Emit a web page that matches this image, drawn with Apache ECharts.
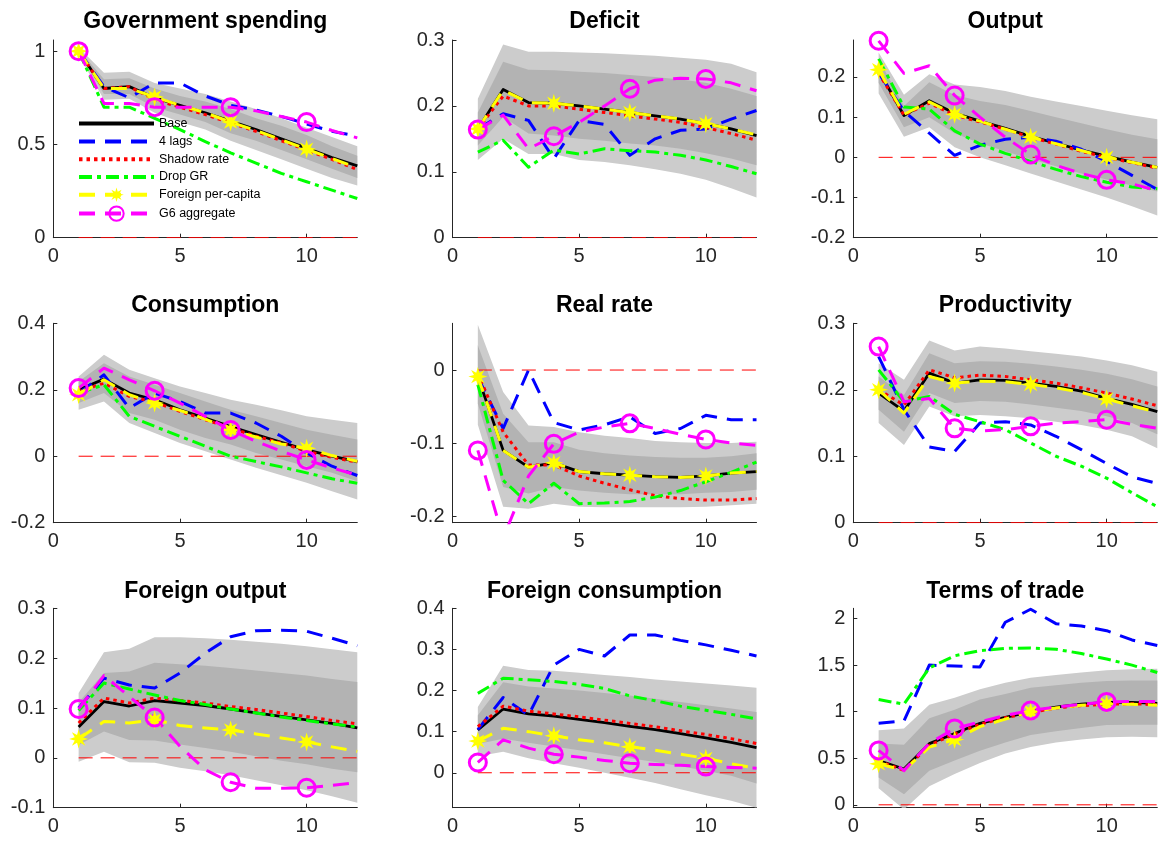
<!DOCTYPE html>
<html>
<head>
<meta charset="utf-8">
<script src="https://cdn.jsdelivr.net/npm/echarts@6/dist/echarts.min.js"></script>
<style>
  html, body { margin: 0; padding: 0; background: #ffffff; }
  #chart { width: 1158px; height: 841px; }
</style>
</head>
<body>
<div id="chart"></div>
<script>
// Impulse responses, horizons 1..12
const horizon = [1, 2, 3, 4, 5, 6, 7, 8, 9, 10, 11, 12];
const markerHorizons = [1, 4, 7, 10];
const xTicks = [0, 5, 10];

// Government spending
const gov_base   = [1.00, 0.80, 0.81, 0.75, 0.71, 0.67, 0.625, 0.58, 0.53, 0.48, 0.43, 0.385];
const gov_lags   = [1.00, 0.81, 0.75, 0.83, 0.83, 0.76, 0.71, 0.685, 0.65, 0.61, 0.57, 0.545];
const gov_shadow = [1.00, 0.80, 0.81, 0.74, 0.70, 0.66, 0.615, 0.57, 0.52, 0.47, 0.42, 0.365];
const gov_dropgr = [1.00, 0.70, 0.70, 0.64, 0.58, 0.515, 0.455, 0.40, 0.345, 0.30, 0.255, 0.21];
const gov_fpc    = [1.00, 0.80, 0.80, 0.755, 0.71, 0.67, 0.62, 0.575, 0.525, 0.475, 0.425, 0.375];
const gov_g6     = [1.00, 0.72, 0.72, 0.70, 0.70, 0.70, 0.70, 0.68, 0.65, 0.62, 0.575, 0.535];
const gov_outerLo = [0.98, 0.74, 0.745, 0.67, 0.62, 0.58, 0.52, 0.47, 0.42, 0.37, 0.32, 0.28];
const gov_outerHi = [1.02, 0.885, 0.89, 0.83, 0.80, 0.77, 0.73, 0.69, 0.64, 0.59, 0.54, 0.49];
const gov_innerLo = [0.99, 0.77, 0.77, 0.70, 0.66, 0.62, 0.56, 0.52, 0.47, 0.42, 0.37, 0.32];
const gov_innerHi = [1.01, 0.85, 0.855, 0.80, 0.76, 0.73, 0.69, 0.64, 0.60, 0.55, 0.49, 0.44];
const gov_yTicks = [0, 0.5, 1];

// Deficit
const def_base   = [0.165, 0.225, 0.205, 0.204, 0.20, 0.195, 0.19, 0.185, 0.18, 0.173, 0.165, 0.155];
const def_lags   = [0.165, 0.188, 0.178, 0.12, 0.178, 0.172, 0.125, 0.15, 0.163, 0.165, 0.18, 0.193];
const def_shadow = [0.165, 0.215, 0.20, 0.20, 0.195, 0.19, 0.185, 0.18, 0.175, 0.167, 0.158, 0.148];
const def_dropgr = [0.13, 0.148, 0.107, 0.133, 0.127, 0.135, 0.132, 0.13, 0.125, 0.118, 0.108, 0.097];
const def_fpc    = [0.165, 0.224, 0.205, 0.204, 0.20, 0.195, 0.19, 0.185, 0.18, 0.173, 0.165, 0.156];
const def_g6     = [0.164, 0.186, 0.135, 0.154, 0.175, 0.20, 0.226, 0.239, 0.242, 0.241, 0.235, 0.223];
const def_outerLo = [0.118, 0.150, 0.127, 0.127, 0.118, 0.115, 0.11, 0.104, 0.097, 0.088, 0.075, 0.061];
const def_outerHi = [0.211, 0.293, 0.282, 0.282, 0.281, 0.28, 0.278, 0.276, 0.273, 0.27, 0.264, 0.251];
const def_innerLo = [0.14, 0.183, 0.158, 0.155, 0.15, 0.147, 0.143, 0.14, 0.135, 0.128, 0.12, 0.11];
const def_innerHi = [0.19, 0.267, 0.255, 0.254, 0.252, 0.25, 0.247, 0.244, 0.24, 0.235, 0.226, 0.215];
const def_yTicks = [0, 0.1, 0.2, 0.3];

// Output
const out_base   = [0.216, 0.104, 0.141, 0.11, 0.09, 0.072, 0.052, 0.035, 0.018, 0.003, -0.012, -0.025];
const out_lags   = [0.21, 0.115, 0.06, 0.005, 0.03, 0.045, 0.05, 0.04, 0.02, -0.01, -0.045, -0.08];
const out_shadow = [0.21, 0.105, 0.135, 0.105, 0.088, 0.07, 0.05, 0.033, 0.015, 0.0, -0.013, -0.027];
const out_dropgr = [0.245, 0.125, 0.12, 0.066, 0.033, 0.01, -0.01, -0.03, -0.048, -0.062, -0.074, -0.078];
const out_fpc    = [0.218, 0.107, 0.138, 0.107, 0.09, 0.07, 0.05, 0.034, 0.017, 0.0, -0.012, -0.025];
const out_g6     = [0.29, 0.209, 0.228, 0.154, 0.10, 0.05, 0.007, -0.02, -0.04, -0.056, -0.066, -0.083];
const out_outerLo = [0.159, 0.051, 0.075, 0.025, 0.0, -0.02, -0.04, -0.06, -0.08, -0.10, -0.122, -0.145];
const out_outerHi = [0.261, 0.156, 0.207, 0.181, 0.175, 0.165, 0.151, 0.139, 0.128, 0.116, 0.105, 0.095];
const out_innerLo = [0.185, 0.075, 0.10, 0.06, 0.035, 0.015, -0.005, -0.022, -0.04, -0.055, -0.07, -0.085];
const out_innerHi = [0.245, 0.128, 0.187, 0.155, 0.14, 0.13, 0.115, 0.10, 0.085, 0.07, 0.056, 0.045];
const out_yTicks = [-0.2, -0.1, 0, 0.1, 0.2];

// Consumption
const con_base   = [0.20, 0.232, 0.19, 0.17, 0.14, 0.115, 0.089, 0.065, 0.042, 0.019, 0.0, -0.016];
const con_lags   = [0.19, 0.245, 0.145, 0.19, 0.165, 0.13, 0.13, 0.10, 0.06, 0.01, -0.03, -0.058];
const con_shadow = [0.195, 0.22, 0.18, 0.163, 0.135, 0.11, 0.085, 0.06, 0.04, 0.015, -0.003, -0.018];
const con_dropgr = [0.19, 0.215, 0.12, 0.09, 0.06, 0.03, 0.0, -0.016, -0.032, -0.05, -0.068, -0.081];
const con_fpc    = [0.185, 0.23, 0.185, 0.16, 0.138, 0.112, 0.079, 0.058, 0.037, 0.024, 0.002, -0.015];
const con_g6     = [0.205, 0.265, 0.23, 0.197, 0.16, 0.12, 0.079, 0.045, 0.015, -0.011, -0.035, -0.057];
const con_outerLo = [0.14, 0.165, 0.10, 0.07, 0.04, 0.015, -0.01, -0.035, -0.057, -0.08, -0.105, -0.13];
const con_outerHi = [0.24, 0.305, 0.26, 0.235, 0.21, 0.19, 0.17, 0.155, 0.138, 0.12, 0.11, 0.10];
const con_innerLo = [0.16, 0.19, 0.13, 0.11, 0.08, 0.055, 0.035, 0.01, -0.01, -0.03, -0.05, -0.075];
const con_innerHi = [0.225, 0.28, 0.24, 0.215, 0.19, 0.165, 0.14, 0.12, 0.10, 0.08, 0.065, 0.05];
const con_yTicks = [-0.2, 0, 0.2, 0.4];

// Real rate
const rr_base   = [-0.009, -0.11, -0.133, -0.127, -0.139, -0.142, -0.144, -0.146, -0.147, -0.145, -0.141, -0.139];
const rr_lags   = [-0.01, -0.08, 0.0, -0.072, -0.082, -0.075, -0.064, -0.087, -0.08, -0.062, -0.068, -0.068];
const rr_shadow = [-0.005, -0.085, -0.13, -0.13, -0.145, -0.155, -0.164, -0.172, -0.176, -0.178, -0.178, -0.176];
const rr_dropgr = [-0.02, -0.151, -0.183, -0.155, -0.183, -0.182, -0.18, -0.174, -0.165, -0.153, -0.14, -0.126];
const rr_fpc    = [-0.009, -0.11, -0.133, -0.127, -0.139, -0.142, -0.144, -0.146, -0.147, -0.145, -0.141, -0.139];
const rr_g6     = [-0.11, -0.23, -0.145, -0.101, -0.085, -0.078, -0.073, -0.08, -0.088, -0.095, -0.10, -0.103];
const rr_outerLo = [-0.075, -0.187, -0.19, -0.183, -0.187, -0.188, -0.188, -0.188, -0.188, -0.187, -0.185, -0.183];
const rr_outerHi = [0.062, -0.03, -0.076, -0.078, -0.085, -0.09, -0.093, -0.097, -0.099, -0.10, -0.10, -0.098];
const rr_innerLo = [-0.046, -0.16, -0.169, -0.16, -0.165, -0.168, -0.17, -0.17, -0.17, -0.168, -0.167, -0.164];
const rr_innerHi = [0.034, -0.06, -0.099, -0.099, -0.109, -0.114, -0.117, -0.119, -0.12, -0.12, -0.118, -0.114];
const rr_yTicks = [-0.2, -0.1, 0];

// Productivity
const prod_base   = [0.195, 0.168, 0.225, 0.21, 0.215, 0.214, 0.21, 0.205, 0.198, 0.187, 0.178, 0.167];
const prod_lags   = [0.25, 0.17, 0.114, 0.107, 0.15, 0.152, 0.147, 0.13, 0.11, 0.089, 0.069, 0.059];
const prod_shadow = [0.20, 0.177, 0.23, 0.218, 0.222, 0.22, 0.215, 0.21, 0.203, 0.195, 0.186, 0.176];
const prod_dropgr = [0.23, 0.182, 0.19, 0.163, 0.152, 0.14, 0.12, 0.10, 0.085, 0.067, 0.045, 0.024];
const prod_fpc    = [0.20, 0.165, 0.22, 0.21, 0.213, 0.212, 0.208, 0.203, 0.196, 0.186, 0.176, 0.166];
const prod_g6     = [0.265, 0.182, 0.187, 0.142, 0.138, 0.14, 0.145, 0.15, 0.152, 0.155, 0.148, 0.142];
const prod_outerLo = [0.15, 0.117, 0.175, 0.16, 0.162, 0.16, 0.157, 0.152, 0.147, 0.14, 0.13, 0.112];
const prod_outerHi = [0.24, 0.215, 0.274, 0.259, 0.265, 0.262, 0.258, 0.254, 0.25, 0.244, 0.237, 0.227];
const prod_innerLo = [0.17, 0.137, 0.195, 0.18, 0.183, 0.182, 0.178, 0.173, 0.168, 0.16, 0.15, 0.133];
const prod_innerHi = [0.22, 0.192, 0.255, 0.24, 0.243, 0.242, 0.239, 0.235, 0.23, 0.224, 0.216, 0.205];
const prod_yTicks = [0, 0.1, 0.2, 0.3];

// Foreign output
const fout_base   = [0.062, 0.113, 0.104, 0.115, 0.11, 0.105, 0.098, 0.09, 0.083, 0.076, 0.069, 0.06];
const fout_lags   = [0.10, 0.16, 0.146, 0.14, 0.17, 0.21, 0.243, 0.255, 0.256, 0.254, 0.24, 0.225];
const fout_shadow = [0.07, 0.12, 0.11, 0.12, 0.115, 0.11, 0.103, 0.097, 0.09, 0.083, 0.075, 0.068];
const fout_dropgr = [0.095, 0.15, 0.138, 0.126, 0.115, 0.107, 0.098, 0.09, 0.082, 0.075, 0.068, 0.062];
const fout_fpc    = [0.038, 0.073, 0.07, 0.076, 0.065, 0.06, 0.056, 0.048, 0.04, 0.032, 0.022, 0.013];
const fout_g6     = [0.098, 0.165, 0.123, 0.081, 0.023, -0.024, -0.049, -0.061, -0.061, -0.06, -0.055, -0.05];
const fout_outerLo = [-0.008, 0.012, -0.009, -0.01, -0.02, -0.027, -0.035, -0.045, -0.055, -0.065, -0.077, -0.09];
const fout_outerHi = [0.13, 0.212, 0.219, 0.242, 0.242, 0.24, 0.237, 0.233, 0.229, 0.224, 0.218, 0.212];
const fout_innerLo = [0.026, 0.053, 0.036, 0.035, 0.027, 0.02, 0.012, 0.003, -0.006, -0.013, -0.022, -0.029];
const fout_innerHi = [0.111, 0.17, 0.173, 0.191, 0.188, 0.185, 0.18, 0.175, 0.17, 0.165, 0.158, 0.152];
const fout_yTicks = [-0.1, 0, 0.1, 0.2, 0.3];

// Foreign consumption
const fcon_base   = [0.104, 0.155, 0.143, 0.138, 0.13, 0.122, 0.113, 0.105, 0.095, 0.085, 0.074, 0.061];
const fcon_lags   = [0.105, 0.183, 0.14, 0.262, 0.30, 0.284, 0.335, 0.335, 0.322, 0.311, 0.298, 0.284];
const fcon_shadow = [0.112, 0.162, 0.15, 0.143, 0.136, 0.128, 0.12, 0.112, 0.102, 0.093, 0.083, 0.071];
const fcon_dropgr = [0.193, 0.23, 0.226, 0.222, 0.215, 0.205, 0.187, 0.175, 0.162, 0.152, 0.142, 0.131];
const fcon_fpc    = [0.077, 0.108, 0.10, 0.09, 0.08, 0.073, 0.063, 0.055, 0.045, 0.035, 0.022, 0.011];
const fcon_g6     = [0.025, 0.08, 0.06, 0.045, 0.038, 0.03, 0.023, 0.02, 0.018, 0.015, 0.013, 0.011];
const fcon_outerLo = [0.04, 0.051, 0.035, 0.023, 0.012, 0.0, -0.012, -0.025, -0.04, -0.055, -0.068, -0.085];
const fcon_outerHi = [0.16, 0.26, 0.25, 0.248, 0.243, 0.238, 0.233, 0.227, 0.222, 0.217, 0.212, 0.207];
const fcon_innerLo = [0.07, 0.083, 0.073, 0.064, 0.055, 0.045, 0.035, 0.026, 0.016, 0.005, -0.007, -0.026];
const fcon_innerHi = [0.14, 0.22, 0.21, 0.205, 0.20, 0.194, 0.188, 0.18, 0.172, 0.164, 0.156, 0.148];
const fcon_yTicks = [0, 0.1, 0.2, 0.3, 0.4];

// Terms of trade
const tot_base   = [0.475, 0.385, 0.657, 0.766, 0.875, 0.94, 1.0, 1.05, 1.08, 1.10, 1.10, 1.09];
const tot_lags   = [0.875, 0.90, 1.50, 1.49, 1.48, 1.96, 2.10, 1.945, 1.92, 1.87, 1.77, 1.71];
const tot_shadow = [0.47, 0.37, 0.64, 0.76, 0.865, 0.935, 0.99, 1.04, 1.065, 1.08, 1.085, 1.075];
const tot_dropgr = [1.13, 1.08, 1.47, 1.60, 1.655, 1.68, 1.684, 1.67, 1.625, 1.565, 1.50, 1.42];
const tot_fpc    = [0.44, 0.37, 0.62, 0.70, 0.84, 0.92, 1.0, 1.04, 1.07, 1.085, 1.08, 1.07];
const tot_g6     = [0.584, 0.367, 0.66, 0.82, 0.89, 0.96, 1.013, 1.05, 1.08, 1.105, 1.11, 1.11];
const tot_outerLo = [0.178, -0.05, 0.20, 0.33, 0.45, 0.55, 0.62, 0.67, 0.70, 0.725, 0.73, 0.726];
const tot_outerHi = [0.80, 0.82, 1.075, 1.15, 1.24, 1.31, 1.365, 1.395, 1.42, 1.445, 1.455, 1.46];
const tot_innerLo = [0.294, 0.113, 0.367, 0.476, 0.58, 0.67, 0.75, 0.79, 0.825, 0.857, 0.86, 0.86];
const tot_innerHi = [0.657, 0.646, 0.93, 1.02, 1.13, 1.19, 1.256, 1.285, 1.31, 1.33, 1.335, 1.335];
const tot_yTicks = [0, 0.5, 1, 1.5, 2];

const seriesNames = ['Base', '4 lags', 'Shadow rate', 'Drop GR', 'Foreign per-capita', 'G6 aggregate'];

const panels = [
  { title: 'Government spending', yMin: 0, yMax: 1.06, yTicks: gov_yTicks,
    lines: [gov_base, gov_lags, gov_shadow, gov_dropgr, gov_fpc, gov_g6],
    outer: [gov_outerLo, gov_outerHi], inner: [gov_innerLo, gov_innerHi] },
  { title: 'Deficit', yMin: 0, yMax: 0.3, yTicks: def_yTicks,
    lines: [def_base, def_lags, def_shadow, def_dropgr, def_fpc, def_g6],
    outer: [def_outerLo, def_outerHi], inner: [def_innerLo, def_innerHi] },
  { title: 'Output', yMin: -0.2, yMax: 0.292, yTicks: out_yTicks,
    lines: [out_base, out_lags, out_shadow, out_dropgr, out_fpc, out_g6],
    outer: [out_outerLo, out_outerHi], inner: [out_innerLo, out_innerHi] },
  { title: 'Consumption', yMin: -0.2, yMax: 0.4, yTicks: con_yTicks,
    lines: [con_base, con_lags, con_shadow, con_dropgr, con_fpc, con_g6],
    outer: [con_outerLo, con_outerHi], inner: [con_innerLo, con_innerHi] },
  { title: 'Real rate', yMin: -0.209, yMax: 0.064, yTicks: rr_yTicks,
    lines: [rr_base, rr_lags, rr_shadow, rr_dropgr, rr_fpc, rr_g6],
    outer: [rr_outerLo, rr_outerHi], inner: [rr_innerLo, rr_innerHi] },
  { title: 'Productivity', yMin: 0, yMax: 0.3, yTicks: prod_yTicks,
    lines: [prod_base, prod_lags, prod_shadow, prod_dropgr, prod_fpc, prod_g6],
    outer: [prod_outerLo, prod_outerHi], inner: [prod_innerLo, prod_innerHi] },
  { title: 'Foreign output', yMin: -0.1, yMax: 0.3, yTicks: fout_yTicks,
    lines: [fout_base, fout_lags, fout_shadow, fout_dropgr, fout_fpc, fout_g6],
    outer: [fout_outerLo, fout_outerHi], inner: [fout_innerLo, fout_innerHi] },
  { title: 'Foreign consumption', yMin: -0.085, yMax: 0.4, yTicks: fcon_yTicks,
    lines: [fcon_base, fcon_lags, fcon_shadow, fcon_dropgr, fcon_fpc, fcon_g6],
    outer: [fcon_outerLo, fcon_outerHi], inner: [fcon_innerLo, fcon_innerHi] },
  { title: 'Terms of trade', yMin: -0.031, yMax: 2.11, yTicks: tot_yTicks,
    lines: [tot_base, tot_lags, tot_shadow, tot_dropgr, tot_fpc, tot_g6],
    outer: [tot_outerLo, tot_outerHi], inner: [tot_innerLo, tot_innerHi] }
];

// Layout of the 3x3 grid of axes
const colLeft = [53.3, 452.5, 853.3];
const plotWidth = 304;
const rowTop = [40, 323.3, 608.3];
const rowHeight = [197.7, 199.4, 199.4];
const titleTop = [10.3, 293.7, 580.3];

const FONT = 'Liberation Sans, Arial, Helvetica, sans-serif';
const AXIS_COLOR = '#262626';
const OUTER_BAND = '#cccccc';
const INNER_BAND = '#b3b3b3';

// Eight-spoke asterisk marker
function asteriskPath() {
  let d = '';
  for (let k = 0; k < 16; k++) {
    const r = k % 2 === 0 ? 50 : 22;
    const a = k * Math.PI / 8 - Math.PI / 2;
    d += (k ? 'L' : 'M') + (50 + r * Math.cos(a)).toFixed(2) + ' ' + (50 + r * Math.sin(a)).toFixed(2);
  }
  return 'path://' + d + 'Z';
}

const lineStyles = [
  { color: '#000000', width: 2.8, dash: 'solid' },
  { color: '#0000ff', width: 3, dash: [16, 10] },
  { color: '#ff0000', width: 3, dash: [3.5, 4] },
  { color: '#00ff00', width: 3, dash: [13, 5, 4, 5] },
  { color: '#ffff00', width: 3, dash: [16, 10], symbol: asteriskPath(), size: 19,
    item: { color: '#ffff00', borderWidth: 0 } },
  { color: '#ff00ff', width: 3, dash: [16, 10], symbol: 'circle', size: 17,
    item: { color: 'rgba(255,0,255,0)', borderColor: '#ff00ff', borderWidth: 3 } }
];

const fmt = v => String(Math.round(v * 1000) / 1000);

function lineSeries(gi, name, values, st) {
  const marked = !!st.symbol;
  return {
    type: 'line', name: name, xAxisIndex: gi, yAxisIndex: gi,
    data: horizon.map((x, i) => (marked && markerHorizons.indexOf(x) >= 0)
      ? [x, values[i]]
      : { value: [x, values[i]], symbol: 'none' }),
    symbol: st.symbol || 'circle',
    symbolSize: st.size || 1,
    showSymbol: marked, showAllSymbol: true,
    lineStyle: { color: st.color, width: st.width, type: st.dash, cap: 'butt', join: 'round' },
    itemStyle: marked ? st.item : { color: 'rgba(0,0,0,0)', borderWidth: 0 },
    emphasis: { disabled: true }, silent: true, clip: true, z: 3
  };
}

// Confidence band: one filled polygon, upper bound forward then lower bound back
function bandSeries(gi, lo, hi, color) {
  return {
    type: 'custom', xAxisIndex: gi, yAxisIndex: gi, silent: true, clip: true, z: 1,
    data: horizon.map((x, i) => [x, lo[i], hi[i]]),
    encode: { x: 0, y: [1, 2] },
    renderItem: function (params, api) {
      if (params.dataIndex !== 0) return null;
      const pts = [];
      for (let i = 0; i < horizon.length; i++) pts.push(api.coord([horizon[i], hi[i]]));
      for (let i = horizon.length - 1; i >= 0; i--) pts.push(api.coord([horizon[i], lo[i]]));
      return { type: 'polygon', shape: { points: pts }, style: { fill: color, stroke: null } };
    }
  };
}

const grids = [], xAxes = [], yAxes = [], titles = [], series = [];

panels.forEach((p, gi) => {
  const col = gi % 3, row = Math.floor(gi / 3);
  grids.push({ left: colLeft[col], top: rowTop[row], width: plotWidth, height: rowHeight[row], containLabel: false });
  titles.push({
    text: p.title, left: colLeft[col] + plotWidth / 2, top: titleTop[row], textAlign: 'center', padding: 0,
    textStyle: { fontSize: 23, fontWeight: 'bold', color: '#000000', fontFamily: FONT }
  });
  xAxes.push({
    type: 'value', gridIndex: gi, min: 0, max: 12,
    axisLine: { show: true, onZero: false, lineStyle: { color: AXIS_COLOR, width: 1 } },
    axisTick: { show: true, inside: true, length: 4, customValues: xTicks, lineStyle: { color: AXIS_COLOR } },
    axisLabel: { customValues: xTicks, fontSize: 20, color: AXIS_COLOR, margin: 9, fontFamily: FONT, formatter: fmt },
    splitLine: { show: false }
  });
  yAxes.push({
    type: 'value', gridIndex: gi, min: p.yMin, max: p.yMax,
    axisLine: { show: true, onZero: false, lineStyle: { color: AXIS_COLOR, width: 1 } },
    axisTick: { show: true, inside: true, length: 4, customValues: p.yTicks, lineStyle: { color: AXIS_COLOR } },
    axisLabel: { customValues: p.yTicks, fontSize: 20, color: AXIS_COLOR, margin: 8, fontFamily: FONT, formatter: fmt },
    splitLine: { show: false }
  });

  series.push(bandSeries(gi, p.outer[0], p.outer[1], OUTER_BAND));
  series.push(bandSeries(gi, p.inner[0], p.inner[1], INNER_BAND));

  // zero reference line across the response horizon
  series.push({
    type: 'line', xAxisIndex: gi, yAxisIndex: gi,
    data: [[horizon[0], 0], [horizon[horizon.length - 1], 0]],
    symbol: 'none', lineStyle: { color: '#ff0000', width: 1, type: [14, 8] }, silent: true, z: 2
  });

  p.lines.forEach((vals, k) => series.push(lineSeries(gi, seriesNames[k], vals, lineStyles[k])));
});

const chart = echarts.init(document.getElementById('chart'), null, { renderer: 'canvas' });
chart.setOption({
  animation: false,
  backgroundColor: '#ffffff',
  textStyle: { fontFamily: FONT },
  title: titles,
  grid: grids,
  xAxis: xAxes,
  yAxis: yAxes,
  legend: {
    data: seriesNames, orient: 'vertical', left: 77, top: 116.4, padding: 0,
    itemWidth: 75, itemHeight: 18, itemGap: 3.4, selectedMode: false,
    lineStyle: { width: 4 },
    textStyle: { fontSize: 12.5, color: '#000000', fontFamily: FONT }
  },
  series: series
});
</script>
</body>
</html>
